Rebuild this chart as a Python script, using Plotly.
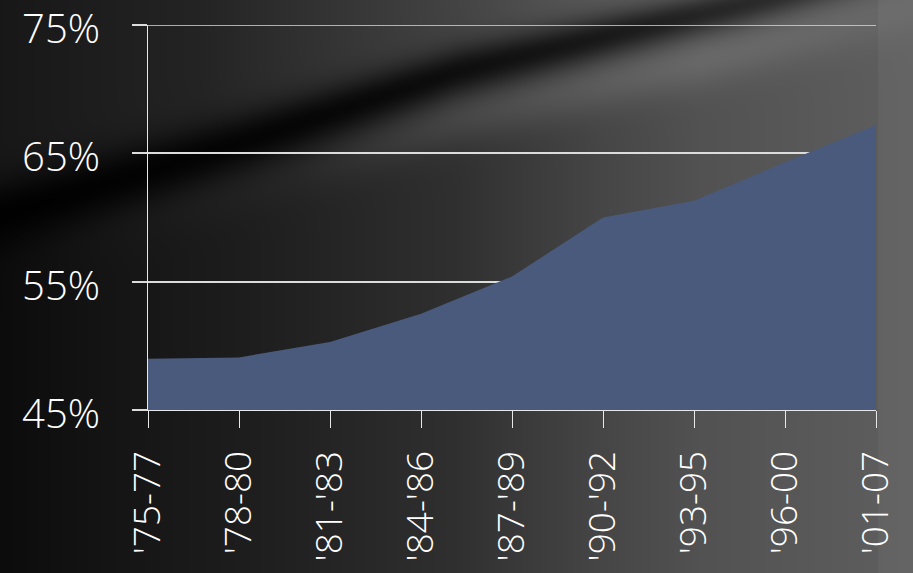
import base64, struct, zlib
import numpy as np
import plotly.graph_objects as go

# ---- data ----
periods = ["'75-77", "'78-80", "'81-'83", "'84-'86", "'87-'89", "'90-'92", "'93-95", "'96-00", "'01-07"]
share = [49.0, 49.1, 50.3, 52.5, 55.4, 60.0, 61.3, 64.3, 67.2]
y_ticks = [45, 55, 65, 75]

W, H = 913, 573
L, R, T, B = 148, 37, 25, 163

# ---- decorative background (dark gradient with diagonal streaks) ----
def make_bg():
    yy, xx = np.mgrid[0:H, 0:W].astype(float)
    x = xx[0]
    yc = np.interp(x, [0, 233, 456, 623, 740, 913], [210, 140, 67, 27, 0, -45])[None, :]
    d = yy - yc
    below = np.interp(x, [0, 100, 250, 456, 600, 700, 913], [12, 20, 30, 48, 70, 82, 95])[None, :]
    below = below + np.zeros_like(yy)
    above = np.interp(x, [0, 200, 456, 700, 820, 913], [24, 36, 68, 105, 95, 85])[None, :] + np.zeros_like(yy)
    s = 1.0 / (1.0 + np.exp(d / 12.0))
    val = above * s + below * (1 - s)
    depth = np.interp(x, [0, 300, 600, 913], [0.92, 0.85, 0.7, 0.4])[None, :]
    w = np.interp(x, [0, 456, 913], [34, 24, 18])[None, :]
    val = val * (1 - depth * np.exp(-((d - 5) / w) ** 2))
    amp = np.interp(x, [0, 300, 456, 700, 913], [0, 6, 22, 22, 8])[None, :]
    val = val + amp * np.exp(-((d - 50) / 28) ** 2)
    val[:, 878:] += 6
    img = np.clip(val, 0, 255).astype(np.uint8)
    rgb = np.stack([img, img, img], axis=-1)
    raw = b"".join(b"\x00" + rgb[i].tobytes() for i in range(H))
    def chunk(tag, data):
        c = tag + data
        return struct.pack(">I", len(data)) + c + struct.pack(">I", zlib.crc32(c) & 0xffffffff)
    png = b"\x89PNG\r\n\x1a\n" + chunk(b"IHDR", struct.pack(">IIBBBBB", W, H, 8, 2, 0, 0, 0)) \
        + chunk(b"IDAT", zlib.compress(raw, 9)) + chunk(b"IEND", b"")
    return "data:image/png;base64," + base64.b64encode(png).decode()

pw, ph = W - L - R, H - T - B

fig = go.Figure()
fig.add_trace(go.Scatter(
    x=periods, y=share, mode="lines", fill="tozeroy",
    line=dict(color="#4a5a7c", width=0), fillcolor="#4a5a7c",
    hoverinfo="skip", showlegend=False,
))

# top gridline (plotly omits the gridline sitting on the plot edge)
fig.add_shape(type="line", xref="paper", yref="y", x0=-15 / pw, x1=1,
              y0=y_ticks[-1], y1=y_ticks[-1], layer="below",
              line=dict(color="#dcdcdc", width=1.5))

font_family = "Open Sans, Lato, sans-serif"
fig.update_layout(
    width=W, height=H,
    margin=dict(l=L, r=R, t=T, b=B, autoexpand=False),
    paper_bgcolor="#1a1a1a",
    plot_bgcolor="rgba(0,0,0,0)",
    font=dict(family=font_family, color="white"),
    images=[dict(
        source=make_bg(), xref="paper", yref="paper",
        x=-L / pw, y=1 + T / ph, sizex=W / pw, sizey=H / ph,
        xanchor="left", yanchor="top", sizing="stretch", layer="below",
    )],
    xaxis=dict(
        type="category", range=[0, len(periods) - 1], automargin=False,
        showgrid=False, zeroline=False,
        showline=True, linecolor="#e8e8e8", linewidth=1,
        ticks="outside", ticklen=17, tickcolor="#e8e8e8", tickwidth=1,
        tickangle=-90, tickfont=dict(size=37, color="white", weight=300),
        ticklabelstandoff=8, ticklabeloverflow="allow",
    ),
    yaxis=dict(
        range=[45, 75], tickvals=y_ticks, ticktext=[f"{v}%" for v in y_ticks],
        automargin=False,
        showgrid=True, gridcolor="#dcdcdc", gridwidth=1.5, zeroline=False,
        showline=True, linecolor="#e8e8e8", linewidth=1,
        ticks="outside", ticklen=15, tickcolor="#dcdcdc", tickwidth=1.5,
        tickfont=dict(size=40, color="white", weight=300),
        ticklabelstandoff=24, ticklabelshift=4, ticklabeloverflow="allow",
    ),
)

fig.write_html("out.html")
